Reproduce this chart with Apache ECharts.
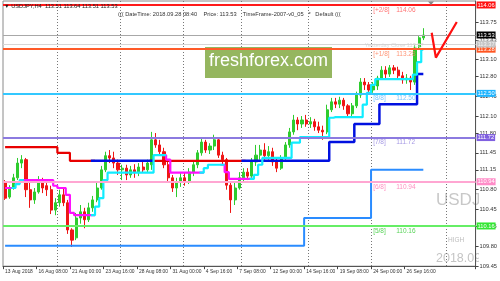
<!DOCTYPE html>
<html><head><meta charset="utf-8">
<script src="https://cdn.jsdelivr.net/npm/echarts@6/dist/echarts.min.js"></script>
<style>html,body{margin:0;padding:0;background:#fff}#c{width:500px;height:281px}</style>
</head><body><div id="c"></div>
<script>
// ---- data (USDJPY H4 chart, merged into 8h candles) ----
const tickLabels = ['13 Aug 2018','16 Aug 08:00','21 Aug 00:00','23 Aug 16:00','28 Aug 08:00','31 Aug 00:00','4 Sep 16:00','7 Sep 08:00','12 Sep 00:00','14 Sep 16:00','19 Sep 08:00','24 Sep 00:00','26 Sep 16:00'];
const totalSlots = 113;          // includes empty chart-shift space on the right
const slotsPerTick = 8;
const gridSlots = [13, 28, 43, 57, 73, 88, 106];
const priceTicks = [113.75, 113.43, 113.10, 112.80, 112.45, 112.10, 111.80, 111.45, 111.15, 110.80, 110.45, 110.15, 109.80, 109.45];

// [open, close, low, high]
const candles = [
[110.92,110.65,110.62,110.97],[110.67,110.83,110.64,110.88],[110.83,111.01,110.80,111.08],[111.01,111.27,110.97,111.36],
[111.27,111.33,111.18,111.41],[111.33,110.80,110.67,111.36],[110.80,110.62,110.48,110.94],[110.62,110.76,110.55,110.83],
[110.76,110.97,110.73,111.04],[110.97,110.83,110.74,111.01],[110.87,110.80,110.69,110.94],[110.80,110.44,110.37,110.87],
[110.44,110.57,110.35,110.65],[110.57,110.71,110.50,110.80],[110.71,110.57,110.51,110.83],[110.57,110.09,110.02,110.62],
[110.09,109.91,109.79,110.12],[109.95,110.30,109.91,110.39],[110.30,110.41,110.20,110.53],[110.41,110.27,110.12,110.48],
[110.27,110.48,110.23,110.57],[110.48,110.62,110.41,110.69],[110.62,110.83,110.58,110.92],[110.83,111.15,110.80,111.22],
[111.15,111.40,111.11,111.47],[111.40,111.36,111.27,111.50],[111.36,111.27,111.18,111.47],[111.27,111.15,111.06,111.33],
[111.15,111.18,110.97,111.24],[111.18,111.06,110.97,111.24],[111.06,111.15,111.01,111.22],[111.15,111.10,111.01,111.25],
[111.10,111.20,111.04,111.27],[111.20,111.15,111.10,111.29],[111.15,111.27,111.11,111.33],[111.24,111.68,111.15,111.82],
[111.68,111.59,111.54,111.80],[111.59,111.47,111.41,111.68],[111.47,111.24,111.18,111.54],[111.24,111.01,110.94,111.33],
[111.01,110.83,110.76,111.06],[110.83,110.94,110.67,111.01],[110.94,111.01,110.85,111.10],[111.01,110.94,110.87,111.11],
[110.94,111.11,110.90,111.18],[111.11,111.24,111.04,111.29],[111.24,111.45,111.18,111.50],[111.45,111.64,111.40,111.71],
[111.64,111.50,111.45,111.68],[111.50,111.57,111.43,111.62],[111.57,111.68,111.50,111.77],[111.68,111.41,111.36,111.71],
[111.41,111.33,111.24,111.47],[111.33,110.88,110.80,111.36],[110.88,110.62,110.39,110.92],[110.62,110.83,110.53,110.92],
[110.83,111.01,110.80,111.11],[111.01,111.11,110.94,111.18],[111.11,111.04,110.97,111.18],[111.04,111.29,111.01,111.36],
[111.29,111.41,111.22,111.59],[111.41,111.50,111.33,111.59],[111.50,111.40,111.33,111.62],[111.40,111.47,111.33,111.57],
[111.47,111.29,111.22,111.54],[111.29,111.18,111.11,111.36],[111.18,111.36,111.15,111.41],[111.36,111.59,111.33,111.64],
[111.59,111.82,111.54,111.89],[111.82,112.03,111.77,112.12],[112.03,111.96,111.85,112.08],[111.96,112.03,111.89,112.10],
[112.03,111.96,111.91,112.12],[111.96,112.00,111.89,112.08],[112.00,111.91,111.84,112.05],[111.91,111.85,111.80,112.00],
[111.85,111.82,111.68,111.93],[111.82,112.21,111.78,112.30],[112.21,112.35,112.17,112.42],[112.35,112.31,112.24,112.42],
[112.31,112.38,112.24,112.44],[112.38,112.28,112.21,112.42],[112.28,112.14,112.08,112.31],[112.14,112.28,112.10,112.33],
[112.28,112.47,112.24,112.53],[112.47,112.70,112.42,112.77],[112.70,112.65,112.56,112.77],[112.65,112.56,112.51,112.70],
[112.56,112.63,112.51,112.70],[112.63,112.77,112.56,112.81],[112.77,112.91,112.74,112.98],[112.91,112.84,112.77,112.98],
[112.84,112.95,112.79,113.00],[112.95,112.91,112.84,113.00],[112.91,112.81,112.75,112.97],[112.81,112.74,112.67,112.88],
[112.74,112.77,112.67,112.84],[112.77,112.70,112.56,112.81],[112.70,113.30,112.65,113.35],[113.32,113.48,113.27,113.51],
[113.48,113.53,113.44,113.65]
];

// slow step line (red = down trend, blue = up trend)
const slowLine = [
111.55,111.55,111.55,111.55,111.55,111.55,111.55,111.55,111.55,111.55,
111.55,111.55,111.55,111.45,111.45,111.45,111.31,111.31,111.31,111.31,
111.31,111.31,111.31,111.31,111.31,111.31,111.31,111.31,111.31,111.31,
111.31,111.31,111.31,111.31,111.31,111.31,111.31,111.31,111.31,111.31,
111.31,111.31,111.31,111.31,111.31,111.31,111.31,111.31,111.31,111.31,
111.31,111.31,111.31,111.31,111.31,111.31,111.31,111.31,111.31,111.31,
111.31,111.31,111.31,111.31,111.31,111.31,111.31,111.31,111.31,111.31,
111.31,111.31,111.31,111.31,111.31,111.31,111.31,111.31,111.64,111.64,
111.64,111.64,111.64,111.64,111.96,111.96,111.96,111.96,111.96,111.96,
112.31,112.31,112.31,112.31,112.31,112.31,112.31,112.31,112.31,112.84,
112.84
];
const slowRedRanges = [[0,21],[35,57]];
const slowBlueRanges = [[21,35],[57,100]];

// fast step line (magenta = down, cyan = up)
const fastLine = [
110.83,110.83,110.83,110.90,110.97,110.97,110.97,110.97,110.97,110.97,
110.97,110.97,110.87,110.83,110.83,110.71,110.39,110.35,110.35,110.35,
110.35,110.35,110.50,110.65,110.97,111.10,111.10,111.10,111.10,111.10,
111.10,111.10,111.10,111.10,111.10,111.10,111.41,111.41,111.41,111.33,
111.10,111.10,111.10,111.10,111.10,111.10,111.10,111.10,111.18,111.24,
111.24,111.24,111.24,111.11,110.99,110.99,110.99,110.99,110.99,110.99,
111.06,111.24,111.36,111.36,111.36,111.36,111.36,111.36,111.36,111.63,
111.63,111.73,111.73,111.73,111.73,111.73,111.73,111.73,112.07,112.08,
112.08,112.08,112.08,112.08,112.08,112.08,112.30,112.51,112.65,112.75,
112.75,112.75,112.75,112.75,112.75,112.75,112.75,112.75,112.83,113.05,
113.27
];
const fastMagentaRanges = [[0,2],[4,21],[38,47],[52,59]];
const fastCyanRanges = [[2,4],[21,38],[47,52],[59,100]];

// daily step line (dodger blue)
const dailyLine = [
109.81,109.81,109.81,109.81,109.81,109.81,109.81,109.81,109.81,109.81,
109.81,109.81,109.81,109.81,109.81,109.81,109.81,109.81,109.81,109.81,
109.81,109.81,109.81,109.81,109.81,109.81,109.81,109.81,109.81,109.81,
109.81,109.81,109.81,109.81,109.81,109.81,109.81,109.81,109.81,109.81,
109.81,109.81,109.81,109.81,109.81,109.81,109.81,109.81,109.81,109.81,
109.81,109.81,109.81,109.81,109.81,109.81,109.81,109.81,109.81,109.81,
109.81,109.81,109.81,109.81,109.81,109.81,109.81,109.81,109.81,109.81,
109.81,109.81,110.30,110.30,110.30,110.30,110.30,110.30,110.30,110.30,
110.30,110.30,110.30,110.30,110.30,110.30,110.30,110.30,111.15,111.15,
111.15,111.15,111.15,111.15,111.15,111.15,111.15,111.15,111.15,111.15,
111.15
];

// Murrey math levels
const levelValues = [114.06, 113.28, 112.50, 111.72, 110.94, 110.16];
const levelNames  = ['[+2/8]', '[+1/8]', '[8/8]', '[7/8]', '[6/8]', '[5/8]'];
const levelLineColors = ['#ff1a1a', '#ff5a28', '#33c8ff', '#8c7ae0', '#ffa6d2', '#66ee66'];
const levelBoxColors  = ['#ff1010', '#ff5520', '#1eb4ff', '#8060e0', '#ff8cc8', '#33e633'];
const levelTextColors = ['#ff5050', '#ff7a55', '#55b4ff', '#8f80dd', '#ff70b0', '#30c830'];
const levelLabelSlot = 88;
const bidPrice = 113.53;
const yesterdayClose = 113.37;
const yesterdaySlot = 86;

// forecast arrow
const forecastSlots = [102, 103, 108];
const forecastValues = [113.57, 113.13, 113.76];

// ---- build ----
const cats = Array.from({length: totalSlots}, (_, i) =>
  (i % slotsPerTick === 0 && tickLabels[i / slotsPerTick]) ? tickLabels[i / slotsPerTick] : '');
const mask = (arr, ranges) => arr.map((v, i) => ranges.some(([a, b]) => i >= a && i <= b) ? v : null);
const F = 'Liberation Sans, Arial, sans-serif';

function stepSeries(data, color, width, z) {
  return {type: 'line', data, step: 'middle', symbol: 'none', connectNulls: false, z,
    lineStyle: {color, width}, itemStyle: {color}, silent: true, animation: false};
}

const markLines = levelValues.map((v, k) => ({
  yAxis: v,
  lineStyle: {color: levelLineColors[k], width: 2, type: 'solid'},
  label: {show: true, position: 'end', distance: 1, formatter: v.toFixed(2), color: '#fff',
    backgroundColor: levelBoxColors[k], padding: [1, 1, 0, 1], fontSize: 5.7, fontFamily: F}
}));
markLines.push({yAxis: bidPrice, lineStyle: {color: '#a8a8a8', width: 1, type: 'solid'},
  label: {show: true, position: 'end', distance: 1, formatter: bidPrice.toFixed(2), color: '#fff',
    backgroundColor: '#000', padding: [1, 1, 0, 1], fontSize: 5.7, fontFamily: F}});
markLines.push({yAxis: yesterdayClose, lineStyle: {color: '#d6d6d6', width: 1, type: 'solid'},
  label: {show: true, position: 'end', distance: 1, formatter: yesterdayClose.toFixed(2), color: '#f4f4f4',
    backgroundColor: '#c4c4c4', padding: [1, 1, 0, 1], fontSize: 5.7, fontFamily: F}});

const levelTexts = levelValues.map((v, k) => ({
  value: [levelLabelSlot, v],
  label: {formatter: '{a|' + levelNames[k] + '}{b|' + v.toFixed(2) + '}',
    rich: {a: {width: 23, color: levelTextColors[k], fontSize: 6.5, fontFamily: F},
           b: {color: levelTextColors[k], fontSize: 6.5, fontFamily: F}}}
}));
levelTexts.push({value: [yesterdaySlot, yesterdayClose],
  label: {formatter: 'Yesterday Close ' + yesterdayClose.toFixed(2), color: '#cfcfcf', fontSize: 5.6, fontFamily: F, offset: [0, 1]}});

const chart = echarts.init(document.getElementById('c'), null, {renderer: 'canvas'});
chart.setOption({
  animation: false,
  backgroundColor: '#fff',
  grid: {left: 3, right: 22, top: 1, bottom: 14.8, show: true, borderColor: '#8a8a8a', borderWidth: 1, backgroundColor: 'transparent'},
  xAxis: {
    type: 'category', data: cats, boundaryGap: true,
    axisLine: {show: true, lineStyle: {color: '#555'}},
    axisTick: {show: true, length: 3, interval: (i) => cats[i] !== '', lineStyle: {color: '#444'}},
    axisLabel: {show: true, interval: (i) => cats[i] !== '', align: 'left', fontSize: 4.9, color: '#333', margin: 3, fontFamily: F},
    splitLine: {show: true, interval: (i) => gridSlots.includes(i), lineStyle: {color: '#777', type: [1, 2], width: 1}}
  },
  yAxis: {
    type: 'value', position: 'right', min: 109.45, max: 114.13, scale: true,
    splitLine: {show: false},
    axisLine: {show: true, lineStyle: {color: '#555'}},
    axisTick: {show: true, length: 3, customValues: priceTicks, lineStyle: {color: '#444'}},
    axisLabel: {show: true, customValues: priceTicks, formatter: (v) => v.toFixed(2), fontSize: 5.7, color: '#333', margin: 4, fontFamily: F}
  },
  graphic: [
    {type: 'text', left: 436, top: 192, z: -2, style: {text: 'USDJPY', font: '17px ' + F, fill: '#c8c8c8'}},
    {type: 'text', left: 448, top: 237, z: -2, style: {text: 'HIGH', font: '6.5px ' + F, fill: '#bdbdbd'}},
    {type: 'text', left: 436, top: 252, z: -2, style: {text: '2018.09.28', font: '12.5px ' + F, fill: '#c4c4c4'}},
    {type: 'rect', shape: {x: 479, y: 0, width: 21, height: 266}, z: -1, style: {fill: '#fff'}},
    {type: 'rect', shape: {x: 205, y: 47, width: 127, height: 31}, z: 1, style: {fill: '#95b65f'}},
    {type: 'text', left: 209, top: 52, z: 1, style: {text: 'freshforex.com', font: '18px ' + F, fill: '#fff'}},
    {type: 'text', left: 4, top: 3, z: 10, style: {text: '\u25BC USDJPY,H4  113.51 113.64 113.51 113.53', font: '5.7px ' + F, fill: '#222'}},
    {type: 'text', left: 118, top: 11, z: 10, style: {text: '((( DateTime: 2018.09.28 08:40    Price: 113.53    TimeFrame-2007-v0_05   *   Default (((', font: '5.7px ' + F, fill: '#333'}},
    {type: 'polygon', z: 10, shape: {points: [[428, 1.5], [434, 1.5], [431, 5]]}, style: {fill: '#888'}}
  ],
  series: [
    {type: 'line', data: [], symbol: 'none', z: 1, silent: true,
      markLine: {symbol: 'none', silent: true, animation: false, data: markLines}},
    {type: 'candlestick', data: candles, barWidth: 2.6, z: 2, silent: true,
      itemStyle: {color: '#2ecc2e', color0: '#ee1515', borderColor: '#2ecc2e', borderColor0: '#ee1515', borderWidth: 1}},
    stepSeries(dailyLine, '#2a8cff', 2, 3),
    stepSeries(mask(slowLine, slowRedRanges), '#e80000', 2.2, 3),
    stepSeries(mask(slowLine, slowBlueRanges), '#0010e0', 2.5, 3),
    stepSeries(mask(fastLine, fastMagentaRanges), '#ff10ff', 2.2, 4),
    stepSeries(mask(fastLine, fastCyanRanges), '#10ecff', 2.2, 4),
    {type: 'line', data: forecastSlots.map((s, k) => [s, forecastValues[k]]), symbol: 'none', z: 5,
      lineStyle: {color: '#ff1010', width: 2.2}, silent: true},
    {type: 'scatter', data: levelTexts, symbolSize: 0, z: 6, silent: true,
      label: {show: true, position: 'right', distance: 0, offset: [0, 5]}}
  ]
});
</script></body></html>
